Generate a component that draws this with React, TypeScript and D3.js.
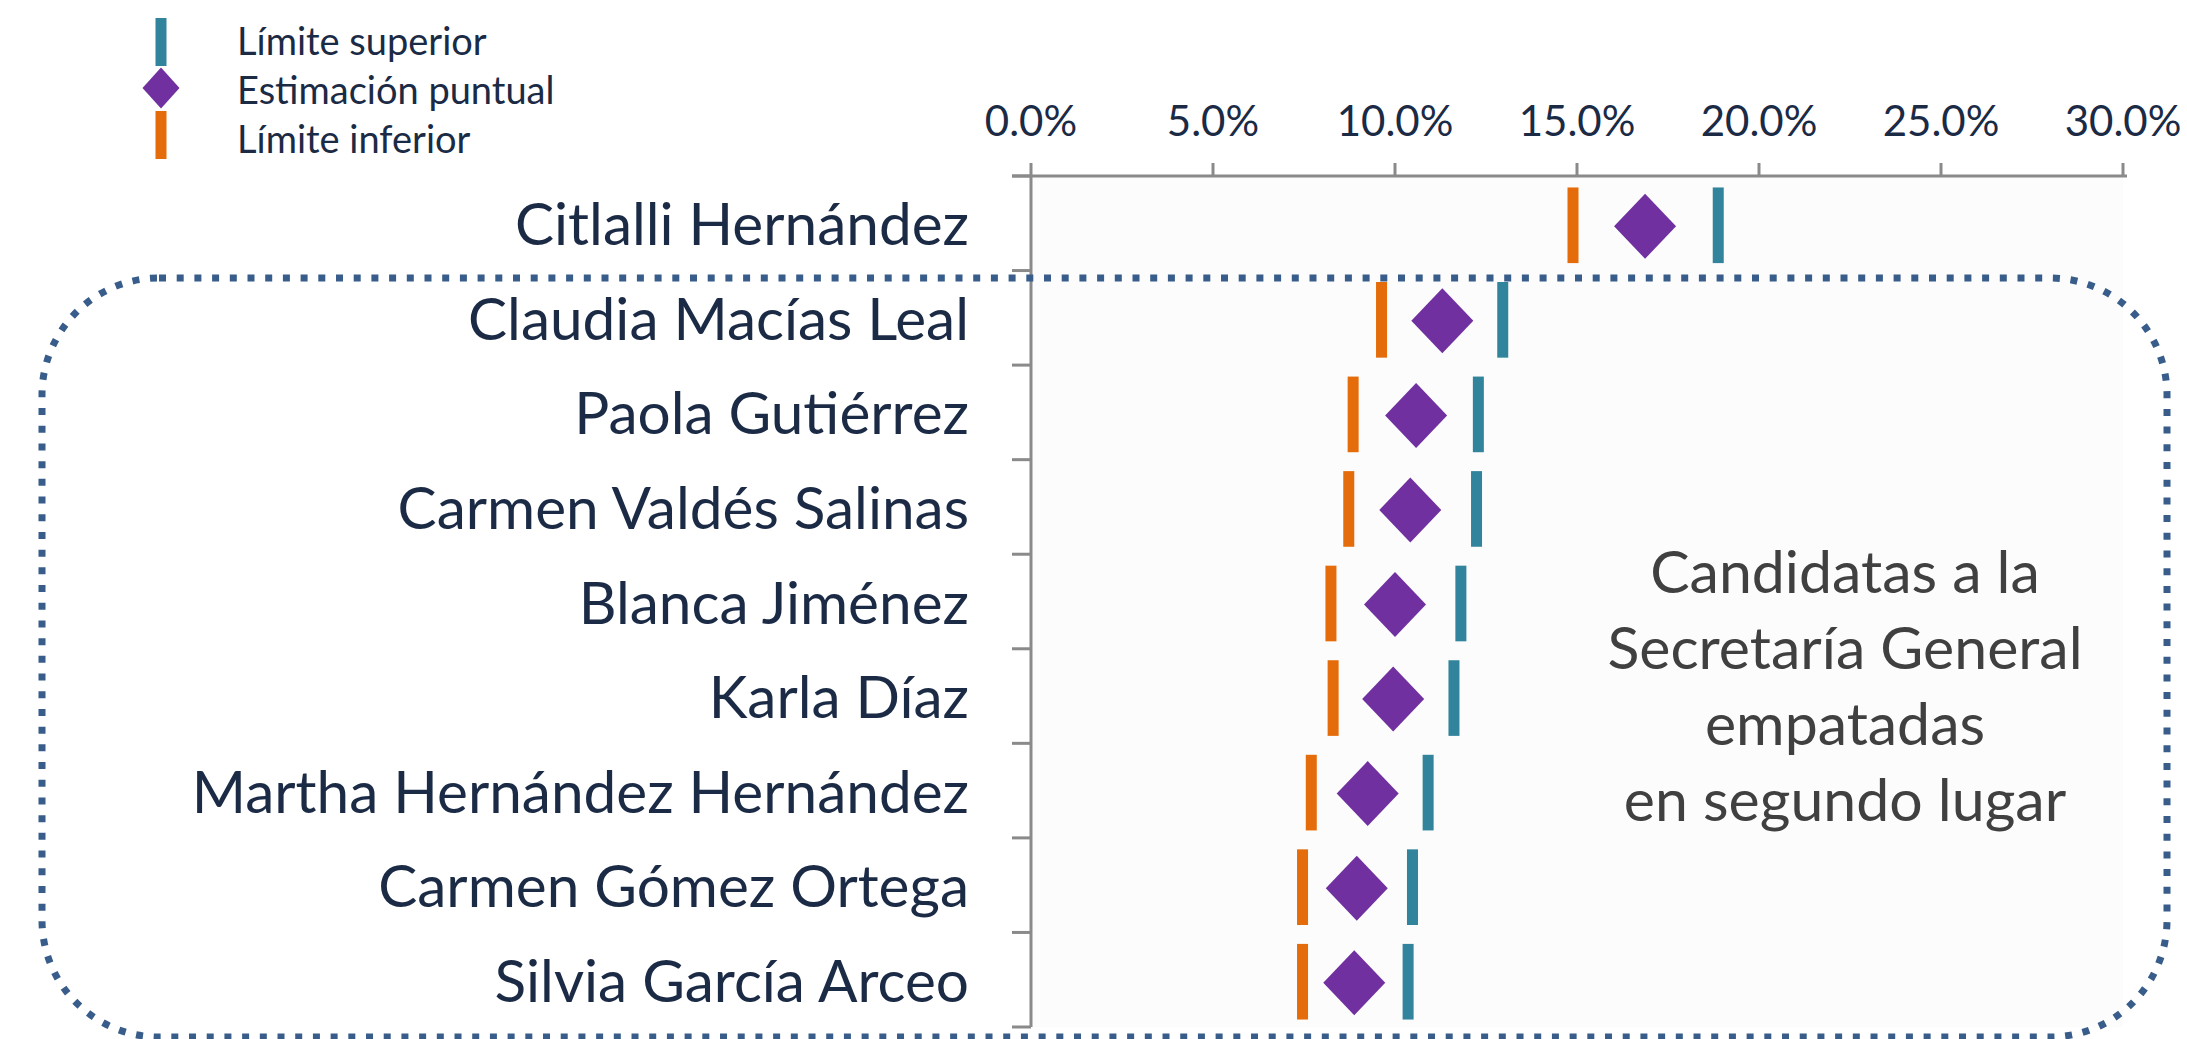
import React from "react";
import * as d3 from "d3";

const categories = [
  "Citlalli Hernández",
  "Claudia Macías Leal",
  "Paola Gutiérrez",
  "Carmen Valdés Salinas",
  "Blanca Jiménez",
  "Karla Díaz",
  "Martha Hernández Hernández",
  "Carmen Gómez Ortega",
  "Silvia García Arceo",
];
const lowerLimit = [14.89, 9.63, 8.85, 8.73, 8.24, 8.3, 7.7, 7.46, 7.46];
const pointEstimate = [16.87, 11.3, 10.58, 10.42, 10.0, 9.95, 9.25, 8.95, 8.88];
const upperLimit = [18.88, 12.96, 12.29, 12.24, 11.81, 11.62, 10.91, 10.48, 10.36];
const xTicks = [0, 5, 10, 15, 20, 25, 30];
const legendItems = ["Límite superior", "Estimación puntual", "Límite inferior"];
const annotationLines = [
  "Candidatas a la",
  "Secretaría General",
  "empatadas",
  "en segundo lugar",
];

const W = 2187;
const H = 1039;
const FONT = "Lato, 'Open Sans', sans-serif";
const NAVY = "#1b2a45";
const ORANGE = "#e46c0a";
const TEAL = "#31849b";
const PURPLE = "#7030a0";
const AXIS = "#8a8a8a";

export default function App() {
  const x = d3.scaleLinear().domain([0, 30]).range([1031, 2123]);
  const y = d3.scaleBand<string>().domain(categories).range([176, 1027]).paddingInner(0).paddingOuter(0);
  const bw = y.bandwidth();
  const barH = bw * 0.8;
  const barW = 11;
  const dW = 31;
  const dH = 32.5;
  const diamond = (cx: number, cy: number, hw: number, hh: number) =>
    `M${cx},${cy - hh}L${cx + hw},${cy}L${cx},${cy + hh}L${cx - hw},${cy}Z`;
  const boundaries = d3.range(categories.length + 1).map((i) => y.range()[0] + i * y.step());

  return (
    <svg
      width={W}
      height={H}
      style={{ position: "absolute", left: 0, top: 0, display: "block", background: "#ffffff" }}
      fontFamily={FONT}
    >
      {/* legend */}
      <g>
        <rect x={161 - barW / 2} y={18} width={barW} height={48} fill={TEAL} />
        <path d={diamond(161, 88, 18.5, 20.5)} fill={PURPLE} />
        <rect x={161 - barW / 2} y={111} width={barW} height={48} fill={ORANGE} />
        {legendItems.map((t, i) => (
          <text key={t} x={237} y={55 + i * 49} fontSize={38} fill={NAVY}>
            {t}
          </text>
        ))}
      </g>

      {/* plot background */}
      <rect x={x(0)} y={y.range()[0]} width={x(30) - x(0)} height={y.range()[1] - y.range()[0]} fill="#fcfcfc" />

      {/* top axis */}
      <g>
        <line x1={x(0) - 19} x2={x(30) + 4} y1={176} y2={176} stroke={AXIS} strokeWidth={3} />
        {xTicks.map((t) => (
          <g key={t}>
            <line x1={x(t)} x2={x(t)} y1={176} y2={163} stroke={AXIS} strokeWidth={3} />
            <text x={x(t)} y={136} textAnchor="middle" fontSize={42} fill={NAVY}>
              {d3.format(".1f")(t) + "%"}
            </text>
          </g>
        ))}
      </g>

      {/* left axis */}
      <g>
        <line x1={x(0)} x2={x(0)} y1={176} y2={boundaries[boundaries.length - 1]} stroke={AXIS} strokeWidth={3} />
        {boundaries.map((b, i) => (
          <line key={i} x1={x(0) - 19} x2={x(0)} y1={b} y2={b} stroke={AXIS} strokeWidth={3} />
        ))}
        {categories.map((c) => (
          <text key={c} x={969} y={(y(c) as number) + bw / 2 + 22} textAnchor="end" fontSize={58.5} fill={NAVY}>
            {c}
          </text>
        ))}
      </g>

      {/* marks */}
      <g>
        {categories.map((c, i) => {
          const cy = (y(c) as number) + bw / 2 + 2;
          return (
            <g key={c}>
              <rect x={x(lowerLimit[i]) - barW / 2} y={cy - barH / 2} width={barW} height={barH} fill={ORANGE} />
              <rect x={x(upperLimit[i]) - barW / 2} y={cy - barH / 2} width={barW} height={barH} fill={TEAL} />
              <path d={diamond(x(pointEstimate[i]), cy + 1, dW, dH)} fill={PURPLE} />
            </g>
          );
        })}
      </g>

      {/* dotted group box */}
      <rect
        x={42}
        y={278}
        width={2125}
        height={759}
        rx={117}
        ry={117}
        fill="none"
        stroke="#385d8a"
        strokeWidth={7}
        strokeDasharray="7 10.7"
      />

      {/* annotation */}
      <g>
        {annotationLines.map((t, i) => (
          <text key={t} x={1845} y={593 + i * 76} textAnchor="middle" fontSize={59} fill="#404040">
            {t}
          </text>
        ))}
      </g>
    </svg>
  );
}
